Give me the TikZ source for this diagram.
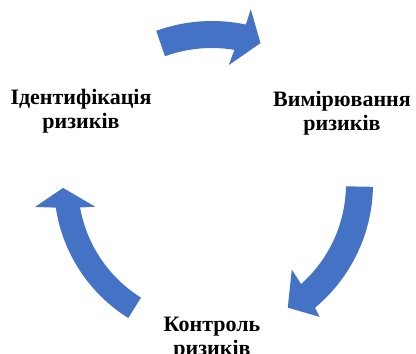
\documentclass[tikz,border=0pt]{standalone}
\usepackage{fontspec}
\setmainfont{Liberation Serif}
\usepackage{tikz}
\usetikzlibrary{shapes,arrows}
\definecolor{cycleblue}{RGB}{68,114,196}
\tikzstyle{stage} = [text centered, align=center, inner sep=0pt, font=\fontsize{22}{24}\selectfont\bfseries]
\tikzstyle{cyclearrow} = [fill=cycleblue, draw=none]

\begin{document}
\begin{tikzpicture}[x=1pt, y=1pt]
\useasboundingbox (0,0) rectangle (416,354);
%
% Define nodes
%
\coordinate (centre) at (212,170);
\node (ident) [stage] at (81,243) {Ідентифікація\\ризиків};
\node (measure) [stage] at (342,241) {Вимірювання\\ризиків};
\node (control) [stage] at (212,15) {Контроль\\ризиків};
%
% Draw arrows
%
\begin{scope}[shift={(centre)}]
\fill [cyclearrow] (110:163) arc[start angle=110, end angle=78, radius=163]
  -- (77.5:179) -- (71:149) -- (82:120) -- (80.5:136)
  arc[start angle=80.5, end angle=110, radius=137] -- cycle;
\fill [cyclearrow] (-1:161) arc[start angle=-1, end angle=-50.2, radius=161]
  -- (-51:171) -- (-58.5:145) -- (-47:117) -- (-48.3:134)
  arc[start angle=-48.3, end angle=-1, radius=134] -- cycle;
\fill [cyclearrow] (238:158) arc[start angle=238, end angle=188.6, radius=158]
  -- (187.4:178.5) -- (181.5:149) -- (191:119) -- (190.1:134)
  arc[start angle=190.1, end angle=238, radius=134] -- cycle;
\end{scope}
\end{tikzpicture}
\end{document}
